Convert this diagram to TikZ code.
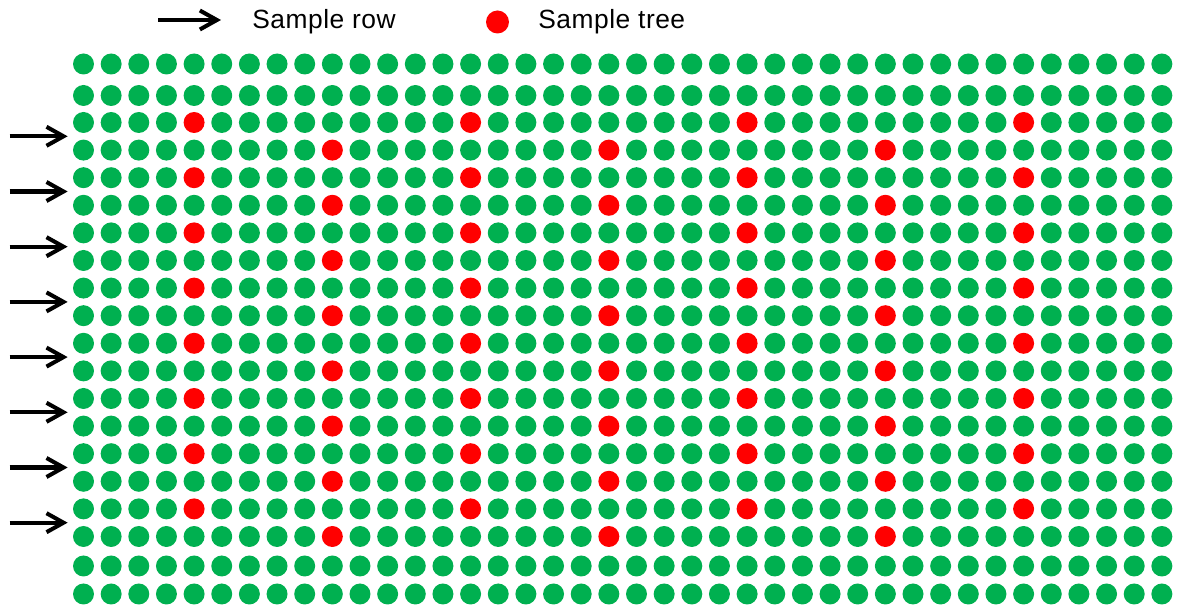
\documentclass[tikz,border=0pt]{standalone}
\usepackage{fontspec}
\setmainfont{Liberation Sans}
\usetikzlibrary{arrows.meta, calc}
\definecolor{treecol}{HTML}{00B050}
\definecolor{samplecol}{HTML}{FF0000}

\begin{document}
\begin{tikzpicture}[x=0.02cm, y=-0.02cm, >={Straight Barb[length=3.4mm, width=3.8mm]},
  tree/.style={circle, fill=treecol, inner sep=0pt, minimum size=0.42cm},
  rowarrow/.style={->, line width=2.3pt, black},
  legendtext/.style={anchor=base west, inner sep=0pt, font=\fontsize{15}{17}\selectfont\addfontfeature{LetterSpace=2}}]
\useasboundingbox (0,0) rectangle (1178,607);
% legend
\coordinate (legtail) at (158,20);
\coordinate (leghead) at (221,20);
\draw[rowarrow] (legtail) -- (leghead);
\node[legendtext] (legrow) at (252,28.5) {Sample row};
\node[tree, fill=samplecol, minimum size=0.46cm] (legtree) at (497.5,22) {};
\node[legendtext] (legsample) at (538,28.5) {Sample tree};
% plantation grid, red every 5th tree on rows 2--17
\foreach \y [count=\r from 0] in {64,95.5,122.5,150.1,177.7,205.3,232.9,260.5,288.1,315.7,343.3,370.9,398.5,426.1,453.7,481.3,508.9,536.5,566,594} {
  \pgfmathtruncatemacro\want{4+5*mod(\r,2)}
  \foreach \c in {0,...,39} {
    \pgfmathtruncatemacro\pick{and(and(\r>1,\r<18),and(\c<35,mod(\c,10)==\want))}
    \ifnum\pick=1 \def\col{samplecol}\else\def\col{treecol}\fi
    \node[tree, fill=\col] (d-\r-\c) at (83.5+27.65*\c,\y) {};
  }
}
% sample row arrows
\foreach \r [count=\k] in {2,4,...,16} {
  \pgfmathtruncatemacro\s{\r+1}
  \coordinate (tail-\k) at ($(d-\r-0.west)!0.5!(d-\s-0.west)+(-63,0)$);
  \coordinate (head-\k) at ($(d-\r-0.west)!0.5!(d-\s-0.west)+(-5,0)$);
  \draw[rowarrow] (tail-\k) -- (head-\k);
}
\end{tikzpicture}
\end{document}
